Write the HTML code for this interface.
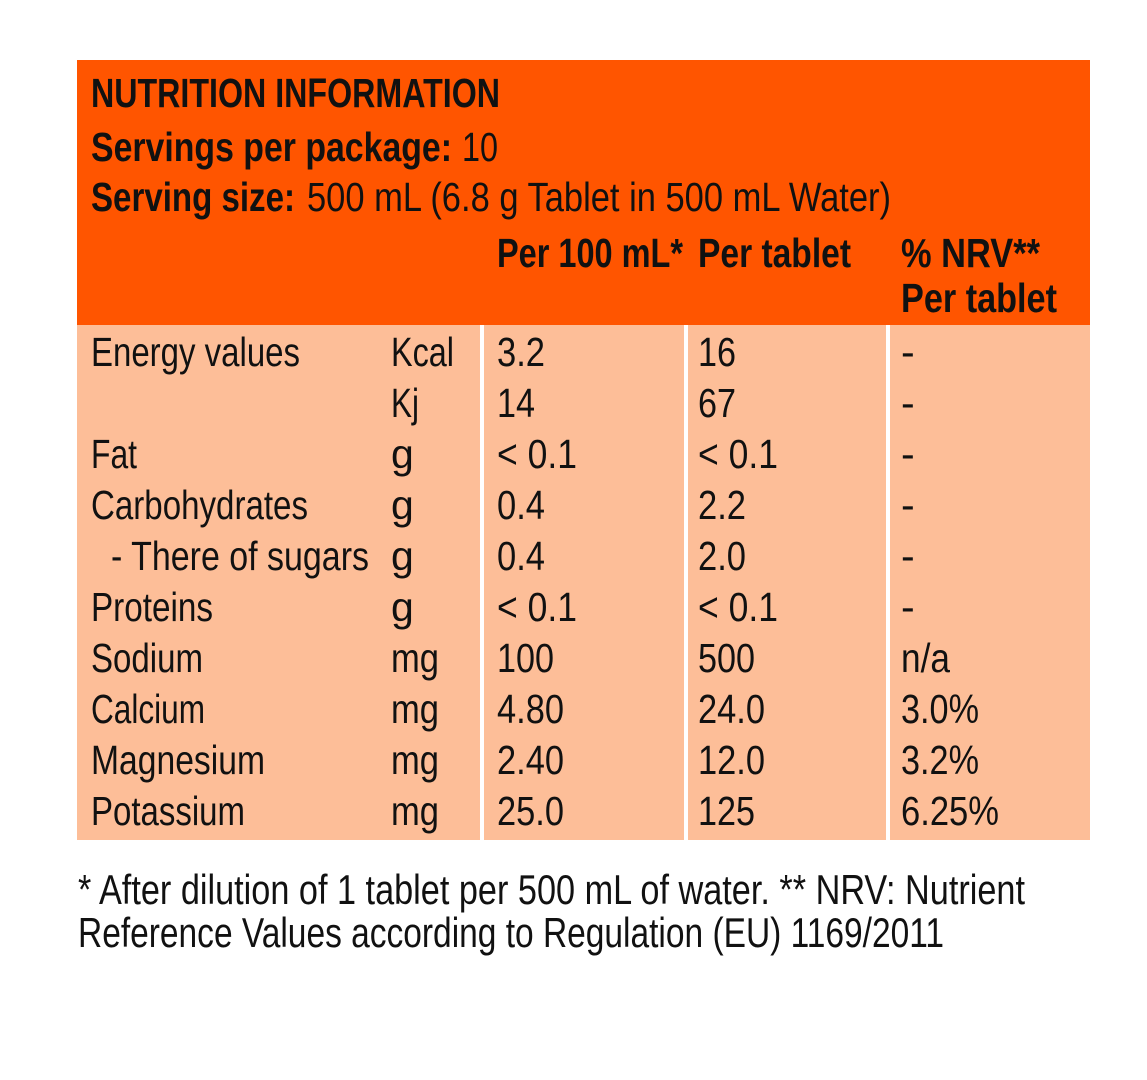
<!DOCTYPE html>
<html><head><meta charset="utf-8"><style>
html,body{margin:0;padding:0;background:#fff;}
svg{display:block;}
text{font-family:"Liberation Sans",sans-serif;fill:#111;}
.b{font-weight:bold;}
</style></head><body>
<svg width="1147" height="1080" viewBox="0 0 1147 1080" xmlns="http://www.w3.org/2000/svg">
<rect x="77" y="60" width="1013" height="265" fill="#FF5500"/>
<rect x="77" y="325" width="1013" height="515" fill="#FDBE98"/>
<rect x="480" y="325" width="4" height="515" fill="#fff"/>
<rect x="684" y="325" width="4" height="515" fill="#fff"/>
<rect x="886" y="325" width="4" height="515" fill="#fff"/>
<g font-size="41">
<text class="b" x="91" y="107" textLength="409" lengthAdjust="spacingAndGlyphs">NUTRITION INFORMATION</text>
<text class="b" x="91" y="161" textLength="361" lengthAdjust="spacingAndGlyphs">Servings per package:</text>
<text x="462" y="161" textLength="36" lengthAdjust="spacingAndGlyphs">10</text>
<text class="b" x="91" y="211" textLength="204" lengthAdjust="spacingAndGlyphs">Serving size:</text>
<text x="307" y="211" textLength="584" lengthAdjust="spacingAndGlyphs">500 mL (6.8 g Tablet in 500 mL Water)</text>
<text class="b" x="497" y="267" textLength="186" lengthAdjust="spacingAndGlyphs">Per 100 mL*</text>
<text class="b" x="698" y="267" textLength="153" lengthAdjust="spacingAndGlyphs">Per tablet</text>
<text class="b" x="901" y="267" textLength="139" lengthAdjust="spacingAndGlyphs">% NRV**</text>
<text class="b" x="901" y="312" textLength="156" lengthAdjust="spacingAndGlyphs">Per tablet</text>
</g>
<g font-size="41">
<text x="91" y="366" textLength="209" lengthAdjust="spacingAndGlyphs">Energy values</text>
<text x="391" y="366" textLength="63" lengthAdjust="spacingAndGlyphs">Kcal</text>
<text x="497" y="366" textLength="48" lengthAdjust="spacingAndGlyphs">3.2</text>
<text x="698" y="366" textLength="38" lengthAdjust="spacingAndGlyphs">16</text>
<text x="901" y="366">-</text>

<text x="391" y="417" textLength="28" lengthAdjust="spacingAndGlyphs">Kj</text>
<text x="497" y="417" textLength="38" lengthAdjust="spacingAndGlyphs">14</text>
<text x="698" y="417" textLength="38" lengthAdjust="spacingAndGlyphs">67</text>
<text x="901" y="417">-</text>

<text x="91" y="468" textLength="46" lengthAdjust="spacingAndGlyphs">Fat</text>
<text x="391" y="468">g</text>
<text x="497" y="468" textLength="80" lengthAdjust="spacingAndGlyphs">&lt; 0.1</text>
<text x="698" y="468" textLength="80" lengthAdjust="spacingAndGlyphs">&lt; 0.1</text>
<text x="901" y="468">-</text>

<text x="91" y="519" textLength="217" lengthAdjust="spacingAndGlyphs">Carbohydrates</text>
<text x="391" y="519">g</text>
<text x="497" y="519" textLength="48" lengthAdjust="spacingAndGlyphs">0.4</text>
<text x="698" y="519" textLength="48" lengthAdjust="spacingAndGlyphs">2.2</text>
<text x="901" y="519">-</text>

<text x="111" y="570" textLength="258" lengthAdjust="spacingAndGlyphs">- There of sugars</text>
<text x="391" y="570">g</text>
<text x="497" y="570" textLength="48" lengthAdjust="spacingAndGlyphs">0.4</text>
<text x="698" y="570" textLength="48" lengthAdjust="spacingAndGlyphs">2.0</text>
<text x="901" y="570">-</text>

<text x="91" y="621" textLength="122" lengthAdjust="spacingAndGlyphs">Proteins</text>
<text x="391" y="621">g</text>
<text x="497" y="621" textLength="80" lengthAdjust="spacingAndGlyphs">&lt; 0.1</text>
<text x="698" y="621" textLength="80" lengthAdjust="spacingAndGlyphs">&lt; 0.1</text>
<text x="901" y="621">-</text>

<text x="91" y="672" textLength="112" lengthAdjust="spacingAndGlyphs">Sodium</text>
<text x="391" y="672" textLength="48" lengthAdjust="spacingAndGlyphs">mg</text>
<text x="497" y="672" textLength="57" lengthAdjust="spacingAndGlyphs">100</text>
<text x="698" y="672" textLength="57" lengthAdjust="spacingAndGlyphs">500</text>
<text x="901" y="672" textLength="49" lengthAdjust="spacingAndGlyphs">n/a</text>

<text x="91" y="723" textLength="114" lengthAdjust="spacingAndGlyphs">Calcium</text>
<text x="391" y="723" textLength="48" lengthAdjust="spacingAndGlyphs">mg</text>
<text x="497" y="723" textLength="67" lengthAdjust="spacingAndGlyphs">4.80</text>
<text x="698" y="723" textLength="67" lengthAdjust="spacingAndGlyphs">24.0</text>
<text x="901" y="723" textLength="78" lengthAdjust="spacingAndGlyphs">3.0%</text>

<text x="91" y="774" textLength="174" lengthAdjust="spacingAndGlyphs">Magnesium</text>
<text x="391" y="774" textLength="48" lengthAdjust="spacingAndGlyphs">mg</text>
<text x="497" y="774" textLength="67" lengthAdjust="spacingAndGlyphs">2.40</text>
<text x="698" y="774" textLength="67" lengthAdjust="spacingAndGlyphs">12.0</text>
<text x="901" y="774" textLength="78" lengthAdjust="spacingAndGlyphs">3.2%</text>

<text x="91" y="825" textLength="154" lengthAdjust="spacingAndGlyphs">Potassium</text>
<text x="391" y="825" textLength="48" lengthAdjust="spacingAndGlyphs">mg</text>
<text x="497" y="825" textLength="67" lengthAdjust="spacingAndGlyphs">25.0</text>
<text x="698" y="825" textLength="57" lengthAdjust="spacingAndGlyphs">125</text>
<text x="901" y="825" textLength="98" lengthAdjust="spacingAndGlyphs">6.25%</text>
</g>
<g font-size="42">
<text x="78" y="904" textLength="947" lengthAdjust="spacingAndGlyphs">* After dilution of 1 tablet per 500 mL of water. ** NRV: Nutrient</text>
<text x="78" y="947" textLength="866" lengthAdjust="spacingAndGlyphs">Reference Values according to Regulation (EU) 1169/2011</text>
</g>
</svg>
</body></html>
